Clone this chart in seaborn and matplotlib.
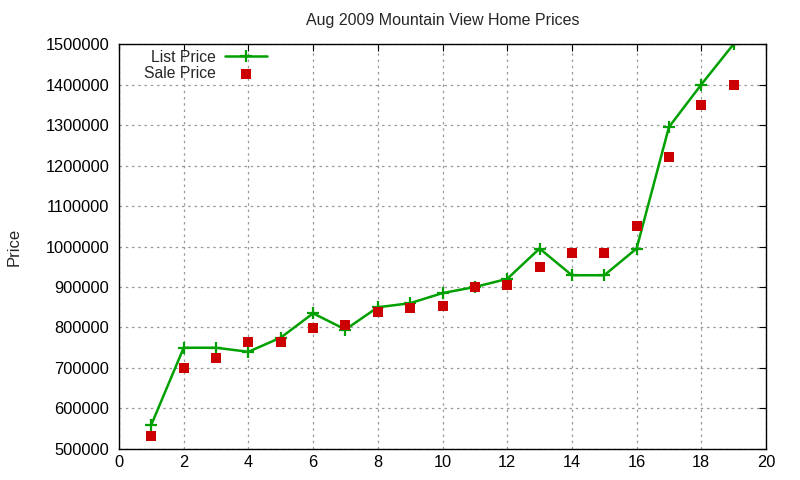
import numpy as np
import pandas as pd
import seaborn as sns
import matplotlib
matplotlib.use("Agg")
import matplotlib.pyplot as plt


# Values
house_number = list(range(1, 20))
list_price = [560000, 750000, 750000, 740000, 775000, 835000, 795000, 850000, 860000, 885000,
              900000, 920000, 995000, 929000, 929000, 995000, 1295000, 1400000, 1500000]
sale_price = [533000, 700000, 725000, 765000, 765000, 799000, 806000, 839000, 849000, 854000,
              900000, 905000, 950000, 985000, 985000, 1050000, 1220000, 1350000, 1400000]
x_ticks = list(range(0, 21, 2))
y_ticks = list(range(500000, 1500001, 100000))


def make_chart():
    sns.set_style("white")
    plt.rcParams['font.family'] = ['Liberation Sans', 'DejaVu Sans']

    df = pd.DataFrame({"house": house_number, "List Price": list_price, "Sale Price": sale_price})

    fig = plt.figure(figsize=(8, 4.8), dpi=100)
    ax = fig.add_axes([0.14875, 0.0646, 0.80875, 0.8437])

    # list price line with plus markers
    sns.lineplot(data=df, x="house", y="List Price", ax=ax, color="#00a000", linewidth=1.8,
                 marker="+", markersize=9, markeredgewidth=1.6, markeredgecolor="#00a000",
                 label="List Price")
    # sale price as red squares
    sns.scatterplot(data=df, x="house", y="Sale Price", ax=ax, color="#cc0000", marker="s",
                    s=55, linewidth=0, label="Sale Price", zorder=3)

    ax.set_xlim(0, 20)
    ax.set_ylim(500000, 1500000)
    ax.set_xticks(x_ticks)
    ax.set_yticks(y_ticks)
    ax.ticklabel_format(style="plain", axis="y")
    ax.tick_params(direction="in", top=True, right=True, length=5, width=0.8,
                   labelsize=11.8, colors="black")
    ax.tick_params(axis="y", pad=7)
    ax.tick_params(axis="x", pad=4.5)
    ax.grid(True, color="#999999", linestyle=(0, (2, 3)), linewidth=0.9)
    for sp in ax.spines.values():
        sp.set_color("black")
        sp.set_linewidth(1.0)

    ax.set_xlabel("")
    ax.set_ylabel("Price", fontsize=12)
    ax.yaxis.set_label_coords(-0.15, 0.5)
    ax.set_title("Aug 2009 Mountain View Home Prices", fontsize=11.5, pad=14)

    ax.legend(loc="upper left", bbox_to_anchor=(0.034, 0.993), frameon=False, markerfirst=False,
              fontsize=11.3, handlelength=2.65, borderaxespad=0.2, labelspacing=0.05,
              handletextpad=0.6, borderpad=0.0)
    for t in ax.get_legend().get_texts():
        t.set_ha("right")

    fig.savefig("out.png", dpi=100)


if __name__ == "__main__":
    make_chart()
